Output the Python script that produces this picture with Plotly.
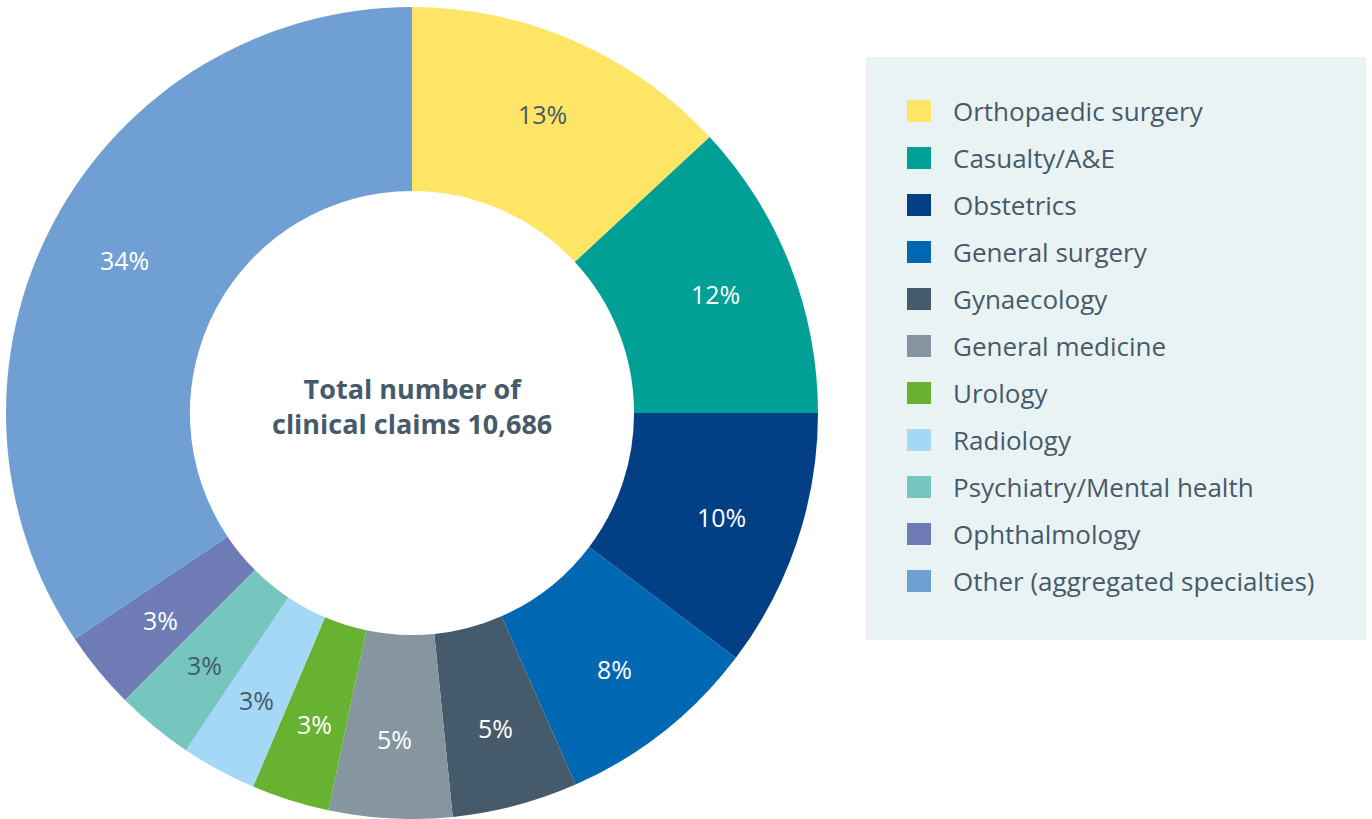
import math
import plotly.graph_objects as go

W, H = 1372, 819

specialties = [
    "Orthopaedic surgery", "Casualty/A&E", "Obstetrics", "General surgery",
    "Gynaecology", "General medicine", "Urology", "Radiology",
    "Psychiatry/Mental health", "Ophthalmology", "Other (aggregated specialties)",
]
share_pct = [13.1, 11.9, 10.3, 8.1, 5.0, 4.9, 3.1, 3.0, 3.1, 3.1, 34.4]
slice_colors = [
    "#FFE566", "#00A096", "#033F85", "#0067B3", "#455A6B", "#8596A1",
    "#67B230", "#A4D8F6", "#76C6BF", "#6E7BB4", "#709FD3",
]
label_colors = [
    "#455A6B", "#FFFFFF", "#FFFFFF", "#FFFFFF", "#FFFFFF", "#FFFFFF",
    "#FFFFFF", "#455A6B", "#455A6B", "#FFFFFF", "#FFFFFF",
]
center_text = "Total number of<br>clinical claims 10,686"

TEXT = "#455A6B"
FONT = "Open Sans"

# pie geometry (pixels)
CX, CY, R = 412, 413, 406
HOLE = 0.547

fig = go.Figure()
fig.add_trace(go.Pie(
    labels=specialties,
    values=share_pct,
    marker=dict(colors=slice_colors, line=dict(width=0)),
    hole=HOLE,
    sort=False,
    direction="clockwise",
    rotation=0,
    textinfo="none",
    showlegend=False,
    hoverinfo="label+percent",
    domain=dict(x=[(CX - R) / W, (CX + R) / W], y=[0, 1 - (CY - R) / H]),
))

# percentage labels placed at each slice's mid-angle in the ring
total = sum(share_pct)
cum = 0.0
r_lab = 0.5 * (1 + HOLE) * R + 12
for v, tc in zip(share_pct, label_colors):
    mid = (cum + v / 2) / total * 2 * math.pi
    cum += v
    px = CX + r_lab * math.sin(mid)
    py = CY - r_lab * math.cos(mid)
    fig.add_annotation(
        x=px / W, y=1 - py / H, xref="paper", yref="paper",
        xanchor="center", yanchor="middle", showarrow=False,
        text=f"{round(v / total * 100)}%",
        font=dict(family=FONT, size=25, color=tc),
    )

fig.add_annotation(
    x=CX / W, y=1 - 406 / H, xref="paper", yref="paper",
    xanchor="center", yanchor="middle",
    text=center_text, showarrow=False,
    font=dict(family=FONT, size=27, color=TEXT, weight="bold"),
    align="center",
)

# legend box
shapes = [dict(type="rect", xref="paper", yref="paper",
               x0=866 / W, x1=1366 / W, y0=1 - 640 / H, y1=1 - 57 / H,
               fillcolor="#EAF3F4", line=dict(width=0), layer="below")]
for i, (lab, col) in enumerate(zip(specialties, slice_colors)):
    cy = 111 + 47 * i
    shapes.append(dict(type="rect", xref="paper", yref="paper",
                       x0=907 / W, x1=931 / W, y0=1 - (cy + 11) / H, y1=1 - (cy - 11) / H,
                       fillcolor=col, line=dict(width=0)))
    fig.add_annotation(
        x=951 / W, y=1 - cy / H, xref="paper", yref="paper",
        text=lab, showarrow=False, xanchor="left", yanchor="middle",
        font=dict(family=FONT, size=26, color=TEXT),
    )

fig.update_layout(
    width=W, height=H,
    margin=dict(l=0, r=0, t=0, b=0),
    paper_bgcolor="white", plot_bgcolor="white",
    shapes=shapes,
)

fig.write_html("out.html", config={"displayModeBar": False},
               post_script="document.body.style.margin='0';document.body.style.overflow='hidden';")
